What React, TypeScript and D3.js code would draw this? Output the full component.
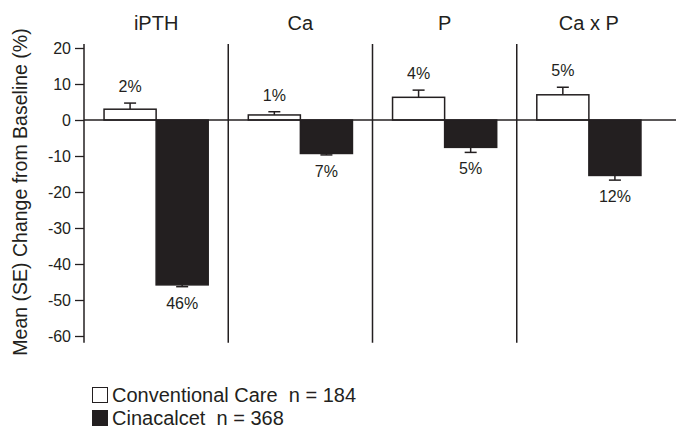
import React, { useEffect, useRef } from "react";
import * as d3 from "d3";

const groups = ["iPTH", "Ca", "P", "Ca x P"];
const series = ["Conventional Care", "Cinacalcet"];
const seriesN = [184, 368];
const conventional = [3.0, 1.4, 6.3, 7.0];
const conventionalSE = [1.7, 0.9, 2.0, 2.1];
const cinacalcet = [-45.8, -9.3, -7.6, -15.4];
const cinacalcetSE = [0.5, 0.4, 1.4, 1.3];
const conventionalLabels = ["2%", "1%", "4%", "5%"];
const cinacalcetLabels = ["46%", "7%", "5%", "12%"];
const yTicks = [20, 10, 0, -10, -20, -30, -40, -50, -60];

const INK = "#231f20";
const FONT = "'Liberation Sans', Arial, Helvetica, sans-serif";

export default function App() {
  const svgRef = useRef<SVGSVGElement>(null);

  useEffect(() => {
    const width = 676;
    const height = 430;
    const svg = d3.select(svgRef.current).attr("width", width).attr("height", height);
    svg.selectAll("*").remove();

    const y = d3.scaleLinear().domain([-60, 20]).range([336, 48]);
    const x = d3.scaleBand().domain(groups).range([84, 661]).padding(0);
    const xSub = d3
      .scaleBand()
      .domain(series)
      .range([0, x.bandwidth()])
      .paddingInner(0)
      .paddingOuter(0.385);

    const g = svg.append("g").style("font-family", FONT).attr("fill", INK);

    // Y axis
    const axis = g
      .append("g")
      .attr("transform", `translate(${x.range()[0]},0)`)
      .call(
        d3
          .axisLeft(y)
          .tickValues(yTicks)
          .tickFormat((d) => String(d))
          .tickSize(9)
          .tickPadding(4)
          .tickSizeOuter(0)
      );
    axis.select(".domain").remove();
    axis.selectAll("line").attr("stroke", INK).attr("stroke-width", 1.3);
    axis
      .selectAll("text")
      .style("font-size", "16px")
      .attr("fill", INK)
      .style("font-family", FONT);

    const yTop = y(21.1);
    const yBot = y(-61.9);
    g.append("line")
      .attr("x1", x.range()[0])
      .attr("x2", x.range()[0])
      .attr("y1", yTop)
      .attr("y2", yBot)
      .attr("stroke", INK)
      .attr("stroke-width", 1.5);

    // Separators between panels
    groups.slice(1).forEach((grp) => {
      const sx = x(grp)!;
      g.append("line")
        .attr("x1", sx)
        .attr("x2", sx)
        .attr("y1", yTop)
        .attr("y2", yBot)
        .attr("stroke", INK)
        .attr("stroke-width", 1.5);
    });

    // Panel titles
    groups.forEach((grp) => {
      g.append("text")
        .attr("x", x(grp)! + x.bandwidth() / 2)
        .attr("y", 30)
        .attr("text-anchor", "middle")
        .style("font-size", "20px")
        .text(grp);
    });

    // Y title
    g.append("text")
      .attr("transform", `translate(27,192) rotate(-90)`)
      .attr("text-anchor", "middle")
      .style("font-size", "19.5px")
      .text("Mean (SE) Change from Baseline (%)");

    const bw = xSub.bandwidth();
    const capW = 12;

    const drawBars = (
      values: number[],
      se: number[],
      labels: string[],
      key: string,
      fill: string
    ) => {
      values.forEach((v, i) => {
        const bx = x(groups[i])! + xSub(key)!;
        const y0 = y(0);
        const yv = y(v);
        const errV = v >= 0 ? v + se[i] : v - se[i];
        const ye = y(errV);
        const cx = bx + bw / 2;

        g.append("line")
          .attr("x1", cx)
          .attr("x2", cx)
          .attr("y1", yv)
          .attr("y2", ye)
          .attr("stroke", INK)
          .attr("stroke-width", 1.5);
        g.append("line")
          .attr("x1", cx - capW / 2)
          .attr("x2", cx + capW / 2)
          .attr("y1", ye)
          .attr("y2", ye)
          .attr("stroke", INK)
          .attr("stroke-width", 1.5);

        g.append("rect")
          .attr("x", bx)
          .attr("y", Math.min(y0, yv))
          .attr("width", bw)
          .attr("height", Math.abs(yv - y0))
          .attr("fill", fill)
          .attr("stroke", INK)
          .attr("stroke-width", 1.5);

        g.append("text")
          .attr("x", cx)
          .attr("y", v >= 0 ? ye - 11 : ye + 22)
          .attr("text-anchor", "middle")
          .style("font-size", "16px")
          .text(labels[i]);
      });
    };

    drawBars(conventional, conventionalSE, conventionalLabels, series[0], "#ffffff");
    drawBars(cinacalcet, cinacalcetSE, cinacalcetLabels, series[1], INK);

    // Zero line
    g.append("line")
      .attr("x1", x.range()[0])
      .attr("x2", width)
      .attr("y1", y(0))
      .attr("y2", y(0))
      .attr("stroke", INK)
      .attr("stroke-width", 1.5);

    // Legend
    const legend = g.append("g").attr("transform", "translate(92,387)");
    series.forEach((s, i) => {
      const row = legend.append("g").attr("transform", `translate(0,${i * 23})`);
      row
        .append("rect")
        .attr("x", 0.5)
        .attr("y", 0.5)
        .attr("width", 15)
        .attr("height", 15)
        .attr("fill", i === 0 ? "#ffffff" : INK)
        .attr("stroke", INK)
        .attr("stroke-width", 1);
      row
        .append("text")
        .attr("x", 20)
        .attr("y", 15)
        .style("font-size", "20px")
        .attr("xml:space", "preserve")
        .style("white-space", "pre")
        .text(`${s}  n = ${seriesN[i]}`);
    });
  }, []);

  return (
    <div style={{ position: "absolute", left: 0, top: 0, background: "#fff" }}>
      <svg ref={svgRef} style={{ display: "block" }}></svg>
    </div>
  );
}
